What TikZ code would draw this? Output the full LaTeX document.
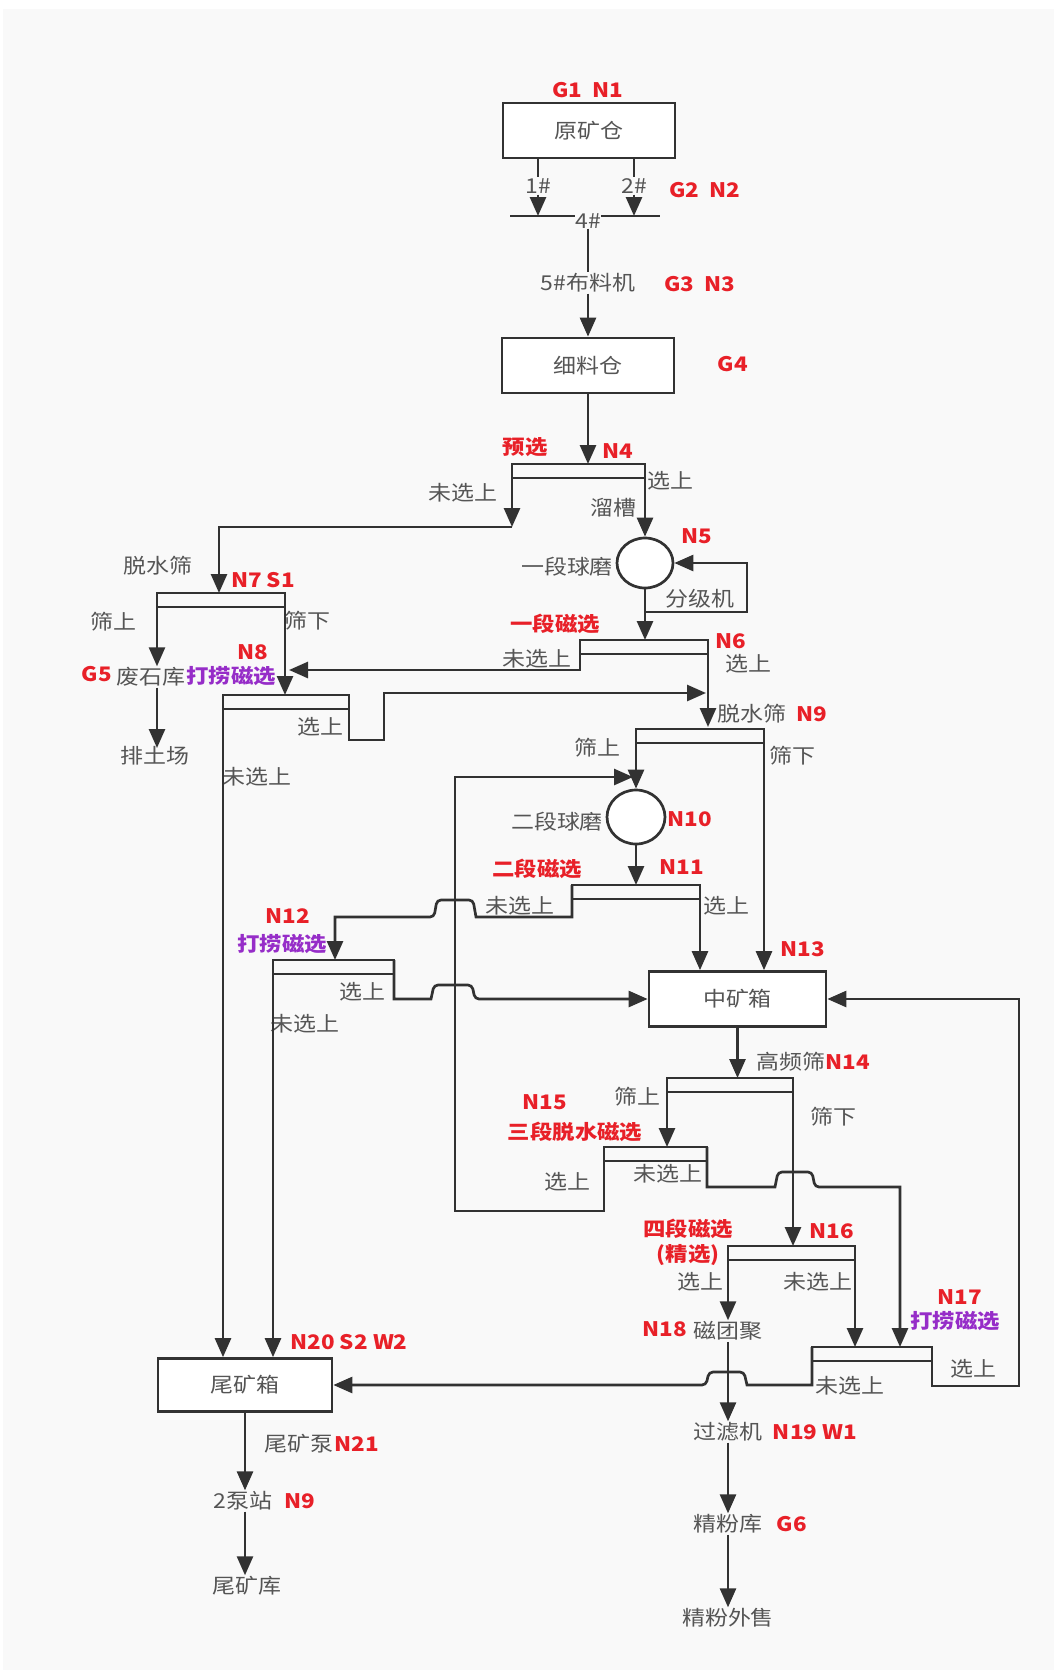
\documentclass[tikz,border=0pt]{standalone}
\usepackage{fontspec}
\setmainfont[FakeStretch=1.12]{Noto Sans CJK SC}
\usetikzlibrary{arrows.meta,shapes.geometric}

\definecolor{bgcol}{RGB}{249,249,249}
\definecolor{linecol}{RGB}{50,50,50}
\definecolor{txtcol}{RGB}{85,85,85}
\definecolor{hlred}{RGB}{232,32,40}
\definecolor{dlpurple}{RGB}{150,45,200}

% 筛子/磁选机：两条横线
\newcommand{\screenbar}[4]{%
  \coordinate (#1l) at (#2,#4);
  \coordinate (#1r) at (#3,#4);
  \draw[pipe,line cap=rect] (#1l) -- (#1r);
  \draw[pipe] (#2,#4+14) -- (#3,#4+14);
}

\begin{document}
\begin{tikzpicture}[x=1pt, y=-1pt, >={Triangle[width=16pt,length=19pt]},
  pipe/.style={line width=2.7pt, draw=linecol},
  box/.style={draw=linecol, line width=2.7pt, fill=white, minimum width=172pt, minimum height=55pt,
    font=\fontsize{20.5}{24}\selectfont, text=txtcol},
  mill/.style={draw=linecol, line width=2.7pt, fill=white, ellipse, inner sep=0pt},
  lbl/.style={font=\fontsize{20.5}{24}\selectfont, text=txtcol, inner sep=1pt},
  hl/.style={font=\fontsize{20}{22}\selectfont\bfseries, text=hlred, inner sep=1pt},
  dl/.style={font=\fontsize{20}{22}\selectfont\bfseries, text=dlpurple, inner sep=1pt}]

	% 背景
	\useasboundingbox (0,0) rectangle (1054,1670);
	\fill[white] (0,0) rectangle (1054,1670);
	\fill[bgcol] (3,9) rectangle (1054,1670);

	% 原矿仓 -> 细料仓
	\node[box] (yk) at (589,130.5) {原矿仓};
	\node[hl] (g1) at (588,90) {G1~~N1};
	\node[lbl] (t1) at (538,186) {1\#};
	\node[lbl] (t2) at (634,186) {2\#};
	\node[hl] (g2) at (705,190) {G2~~N2};
	\coordinate (cv) at (588,216);
	\draw[pipe] (510,216) -- (660,216);
	\node[lbl, fill=bgcol, inner sep=0pt] (t4) at (588,221) {4\#};
	\draw[pipe] (yk.south -| t1) -- (t1);
	\draw[pipe] (yk.south -| t2) -- (t2);
	\draw[pipe,->] (t1) -- (t1 |- cv);
	\draw[pipe,->] (t2) -- (t2 |- cv);
	\node[lbl] (bl) at (588,283) {5\#布料机};
	\node[hl] (g3) at (700,284) {G3~~N3};
	\node[box] (xlc) at (588,365.5) {细料仓};
	\node[hl] (g4) at (733,364) {G4};
	\draw[pipe] (t4) -- (bl);
	\draw[pipe,->] (bl) -- (xlc);

	% 预选 N4
	\screenbar{s4}{512}{645}{464}
	\draw[pipe,->] (xlc) -- (xlc |- s4l);
	\node[hl] (yx) at (525,447) {预选};
	\node[hl] (n4) at (618,451) {N4};
	\node[lbl] (wxs4) at (463,493) {未选上};
	\node[lbl] (xs4) at (670,481) {选上};
	\node[lbl] (lc) at (613,508) {溜槽};
	\draw[pipe,->] (s4l) -- ++(0,63) coordinate (c4);
	\draw[pipe,->] (c4) -- (219,527) -- (219,593);

	% 一段球磨 N5
	\node[mill, minimum width=56pt, minimum height=50pt] (qm1) at (645,563) {};
	\node[lbl] (ydqm) at (567,567) {一段球磨};
	\node[hl] (n5) at (697,536) {N5};
	\node[lbl] (fjj) at (700,599) {分级机};
	\draw[pipe,->] (s4r) -- (qm1);
	\coordinate (fj) at (747,612);
	\draw[pipe,->] (qm1.south |- fj) -- (fj) -- (fj |- qm1) -- (qm1.east);

	% 一段磁选 N6
	\screenbar{s6}{580}{708}{640}
	\draw[pipe,->] (qm1) -- (qm1 |- s6l);
	\node[hl] (ydcx) at (555,624) {一段磁选};
	\node[hl] (n6) at (731,641) {N6};
	\node[lbl] (xs6) at (748,664) {选上};
	\node[lbl] (wxs6) at (537,659) {未选上};
	\draw[pipe,->] (s6l) -- ++(0,30) -- (289,670);
	\draw[pipe,->] (s6r) -- (708,727);

	% 脱水筛 N7 S1
	\screenbar{s7}{157}{285}{593}
	\node[lbl] (tss7) at (158,566) {脱水筛};
	\node[hl] (n7) at (263,580) {N7 S1};
	\node[lbl] (ss7) at (113,622) {筛上};
	\node[lbl] (sx7) at (307,621) {筛下};
	\node[hl] (g5) at (97,674) {G5};
	\node[lbl] (fsk) at (151,677) {废石库};
	\node[dl] (dl8) at (231,676) {打捞磁选};
	\node[hl] (n8) at (253,652) {N8};
	\node[lbl] (ptc) at (155,756) {排土场};
	\draw[pipe,->] (s7l) -- (s7l |- fsk.north);
	\draw[pipe,->] (fsk.south -| s7l) -- (157,748);

	% 打捞磁选 N8
	\screenbar{s8}{223}{349}{695}
	\draw[pipe,->] (s7r) -- (s7r |- s8l);
	\node[lbl] (xs8) at (320,727) {选上};
	\node[lbl] (wxs8) at (257,777) {未选上};
	\draw[pipe,->] (s8r) -- ++(0,45) -- ++(35,0) -- (384,693) -- (706,693);

	% 脱水筛 N9
	\screenbar{s9}{636}{764}{729}
	\node[lbl] (tss9) at (752,714) {脱水筛};
	\node[hl] (n9) at (812,714) {N9};
	\node[lbl] (ss9) at (597,748) {筛上};
	\node[lbl] (sx9) at (792,756) {筛下};

	% 二段球磨 N10
	\node[mill, minimum width=58pt, minimum height=54pt] (qm2) at (636,817) {};
	\node[lbl] (edqm) at (557,822) {二段球磨};
	\node[hl] (n10) at (690,819) {N10};
	\draw[pipe,->] (s9l) -- (qm2);

	% 二段磁选 N11
	\screenbar{s11}{572}{700}{885}
	\draw[pipe,->] (qm2) -- (qm2 |- s11l);
	\node[hl] (edcx) at (537,869) {二段磁选};
	\node[hl] (n11) at (682,867) {N11};
	\node[lbl] (wxs11) at (520,906) {未选上};
	\node[lbl] (xs11) at (726,906) {选上};

	% 三段脱水磁选选上返回二段球磨
	\draw[pipe,->] (604,1147) -- (604,1211) -- (455,1211) -- (455,777) -- (633,777);

	\draw[pipe,->] (s11l) -- (572,917) -- (476,917) [rounded corners=4pt] -- (473,900) -- (437,900) -- (434,917) [sharp corners] -- (335,917) -- (335,960);

	% 打捞磁选 N12
	\screenbar{s12}{273}{394}{960}
	\node[hl] (n12) at (288,916) {N12};
	\node[dl] (dl12) at (282,944) {打捞磁选};
	\node[lbl] (xs12) at (362,992) {选上};
	\node[lbl] (wxs12) at (305,1024) {未选上};

	% 中矿箱 N13
	\node[box, minimum width=177pt] (zkx) at (737.5,999) {中矿箱};
	\node[hl] (n13) at (803,949) {N13};
	\draw[pipe,->] (s11r) -- (s11r |- zkx.north);
	\draw[pipe,->] (s9r) -- (s9r |- zkx.north);
	\draw[pipe,->] (s12r) -- (394,999) -- (431,999) [rounded corners=4pt] -- (434,985) -- (472,985) -- (475,999) [sharp corners] -- (zkx.west);

	% 高频筛 N14
	\screenbar{s14}{667}{793}{1078}
	\draw[pipe,->] (zkx) -- (zkx |- s14l);
	\node[lbl] (gps) at (791,1062) {高频筛};
	\node[hl] (n14) at (848,1062) {N14};
	\node[lbl] (ss14) at (637,1097) {筛上};
	\node[lbl] (sx14) at (833,1117) {筛下};

	% 三段脱水磁选 N15
	\screenbar{s15}{604}{707}{1147}
	\draw[pipe,->] (s14l) -- (s14l |- s15l);
	\node[hl] (n15) at (545,1102) {N15};
	\node[hl] (sdcx) at (575,1132) {三段脱水磁选};
	\node[lbl] (wxs15) at (668,1174) {未选上};
	\node[lbl] (xs15) at (567,1182) {选上};
	\draw[pipe,->] (s15r) -- (707,1187) -- (775,1187) [rounded corners=4pt] -- (778,1172) -- (812,1172) -- (815,1187) [sharp corners] -- (900,1187) -- (900,1347);

	% 四段磁选 N16
	\screenbar{s16}{728}{855}{1246}
	\draw[pipe,->] (s14r) -- (s14r |- s16l);
	\node[hl] (sdcx4) at (688,1229) {四段磁选};
	\node[hl] (jx) at (688,1255) {(精选)};
	\node[hl] (n16) at (832,1231) {N16};
	\node[lbl] (xs16) at (700,1282) {选上};
	\node[lbl] (wxs16) at (818,1282) {未选上};

	% 磁团聚 -> 精粉外售
	\node[lbl] (ctj) at (728,1331) {磁团聚};
	\node[hl] (n18) at (665,1329) {N18};
	\node[lbl] (glj) at (728,1432) {过滤机};
	\node[hl] (n19) at (815,1432) {N19 W1};
	\node[lbl] (jfk) at (728,1524) {精粉库};
	\node[hl] (g6) at (792,1524) {G6};
	\node[lbl] (jfws) at (728,1618) {精粉外售};
	\draw[pipe,->] (s16l) -- (s16l |- ctj.north);
	\draw[pipe,->] (ctj) -- (glj);
	\draw[pipe,->] (glj) -- (jfk);
	\draw[pipe,->] (jfk) -- (jfws);

	% 打捞磁选 N17
	\screenbar{s17}{812}{932}{1347}
	\draw[pipe,->] (s16r) -- (s16r |- s17l);
	\node[hl] (n17) at (960,1297) {N17};
	\node[dl] (dl17) at (955,1321) {打捞磁选};
	\node[lbl] (xs17) at (973,1369) {选上};
	\node[lbl] (wxs17) at (850,1386) {未选上};
	\draw[pipe,->] (s17r) -- (932,1386) -- (1019,1386) -- (1019,999) -- (zkx.east);

	% 尾矿箱 N20
	\node[box, minimum width=174pt, minimum height=53pt] (wkx) at (245,1385) {尾矿箱};
	\node[hl] (n20) at (349,1342) {N20 S2 W2};
	\draw[pipe,->] (s8l) -- (s8l |- wkx.north);
	\draw[pipe,->] (s12l) -- (s12l |- wkx.north);
	\draw[pipe,->] (s17l) -- (812,1385) -- (747,1385) [rounded corners=4pt] -- (744,1372) -- (709,1372) -- (706,1385) [sharp corners] -- (wkx.east);
	\node[lbl] (wkb) at (299,1444) {尾矿泵};
	\node[hl] (n21) at (357,1444) {N21};
	\node[lbl] (bz) at (243,1501) {2泵站};
	\node[hl] (n9b) at (300,1501) {N9};
	\node[lbl] (wkk) at (247,1586) {尾矿库};
	\draw[pipe,->] (wkx) -- (wkx |- bz.north);
	\draw[pipe,->] (bz.south -| wkx) -- (wkk.north -| wkx);
\end{tikzpicture}
\end{document}
